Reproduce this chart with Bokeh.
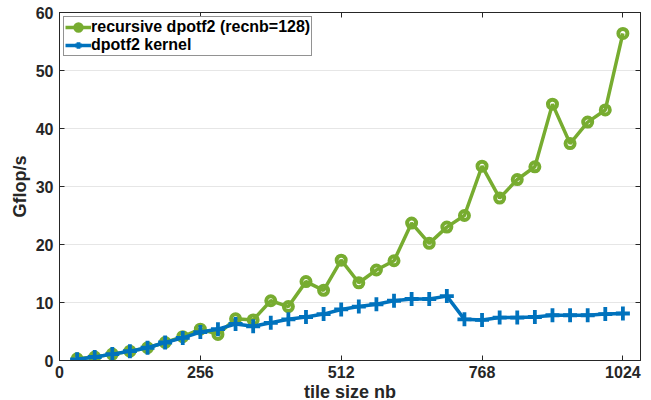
from bokeh.plotting import figure
from bokeh.models import LinearAxis, FixedTicker, Range1d, Legend, LegendItem
from bokeh.embed import file_html
from bokeh.resources import INLINE

tile_nb = [32, 64, 96, 128, 160, 192, 224, 256, 288, 320, 352, 384, 416, 448, 480, 512,
           544, 576, 608, 640, 672, 704, 736, 768, 800, 832, 864, 896, 928, 960, 992, 1024]
recursive_dpotf2 = [0.3, 0.6, 1.1, 1.6, 2.2, 3.1, 4.1, 5.4, 4.5, 7.2, 7.0, 10.3, 9.3, 13.6, 12.1, 17.3,
                    13.4, 15.6, 17.2, 23.7, 20.2, 23.0, 25.0, 33.5, 28.0, 31.2, 33.4, 44.2, 37.4, 41.1, 43.2, 56.4]
dpotf2_kernel = [0.2, 0.6, 1.1, 1.6, 2.2, 3.1, 3.9, 4.9, 5.4, 6.3, 5.9, 6.5, 7.1, 7.5, 8.0, 8.8,
                 9.3, 9.7, 10.3, 10.6, 10.6, 11.1, 7.1, 7.0, 7.4, 7.4, 7.5, 7.8, 7.8, 7.8, 8.0, 8.1]
x_ticks = [0, 256, 512, 768, 1024]
y_ticks = [0, 10, 20, 30, 40, 50, 60]

GREEN = "#77AC30"
BLUE = "#0072BD"
AX = "#262626"
FONT = "Liberation Sans"

p = figure(width=650, height=404, output_backend="svg", toolbar_location=None,
           x_range=Range1d(0, 1056), y_range=Range1d(0, 60),
           min_border_left=59, min_border_right=10, min_border_top=12, min_border_bottom=38)
p.outline_line_color = AX
p.background_fill_color = "white"

gl = p.line(tile_nb, recursive_dpotf2, line_color=GREEN, line_width=3.5)
gs = p.scatter(tile_nb, recursive_dpotf2, marker="circle", size=9, line_color=GREEN,
               line_width=4, fill_alpha=0)
bl = p.line(tile_nb, dpotf2_kernel, line_color=BLUE, line_width=3.5)
bs = p.scatter(tile_nb, dpotf2_kernel, marker="cross", size=14, line_color=BLUE, line_width=3.8)

legend = Legend(items=[LegendItem(label="recursive dpotf2 (recnb=128)", renderers=[gl, gs]),
                       LegendItem(label="dpotf2 kernel", renderers=[bl, bs])],
                location="top_left")
legend.margin = 4
legend.padding = 1
legend.spacing = 0
legend.glyph_width = 26
legend.glyph_height = 16
legend.label_height = 16
legend.label_standoff = 0
legend.label_text_font = FONT
legend.label_text_font_style = "bold"
legend.label_text_font_size = "16px"
legend.label_text_color = "black"
legend.border_line_color = AX
legend.border_line_width = 1
legend.background_fill_alpha = 1
p.add_layout(legend)

p.xgrid.visible = False
p.ygrid.ticker = FixedTicker(ticks=y_ticks)
p.ygrid.grid_line_color = "#e6e6e6"
p.ygrid.grid_line_width = 1

for ax in (p.xaxis[0], p.yaxis[0]):
    ax.axis_line_color = AX
    ax.major_tick_line_color = AX
    ax.major_tick_in = 5
    ax.major_tick_out = 0
    ax.minor_tick_line_color = None
    ax.major_label_text_font = FONT
    ax.major_label_text_font_style = "bold"
    ax.major_label_text_font_size = "16px"
    ax.major_label_text_color = "#262626"
    ax.axis_label_text_font = FONT
    ax.axis_label_text_font_style = "bold"
    ax.axis_label_text_font_size = "18px"
    ax.axis_label_text_color = "#262626"

p.xaxis[0].ticker = FixedTicker(ticks=x_ticks)
p.yaxis[0].ticker = FixedTicker(ticks=y_ticks)
p.xaxis[0].axis_label = "tile size nb"
p.yaxis[0].axis_label = "Gflop/s"
p.xaxis[0].major_label_standoff = 5
p.yaxis[0].major_label_standoff = 6
p.xaxis[0].axis_label_standoff = 1
p.yaxis[0].axis_label_standoff = 3

for loc, ticks in (("above", x_ticks), ("right", y_ticks)):
    a = LinearAxis(ticker=FixedTicker(ticks=ticks))
    a.axis_line_color = AX
    a.major_tick_line_color = AX
    a.major_tick_in = 5
    a.major_tick_out = 0
    a.minor_tick_line_color = None
    a.major_label_text_font_size = "0px"
    a.major_label_standoff = 0
    a.major_label_text_alpha = 0
    p.add_layout(a, loc)

open("out.html", "w").write(file_html(p, INLINE))
